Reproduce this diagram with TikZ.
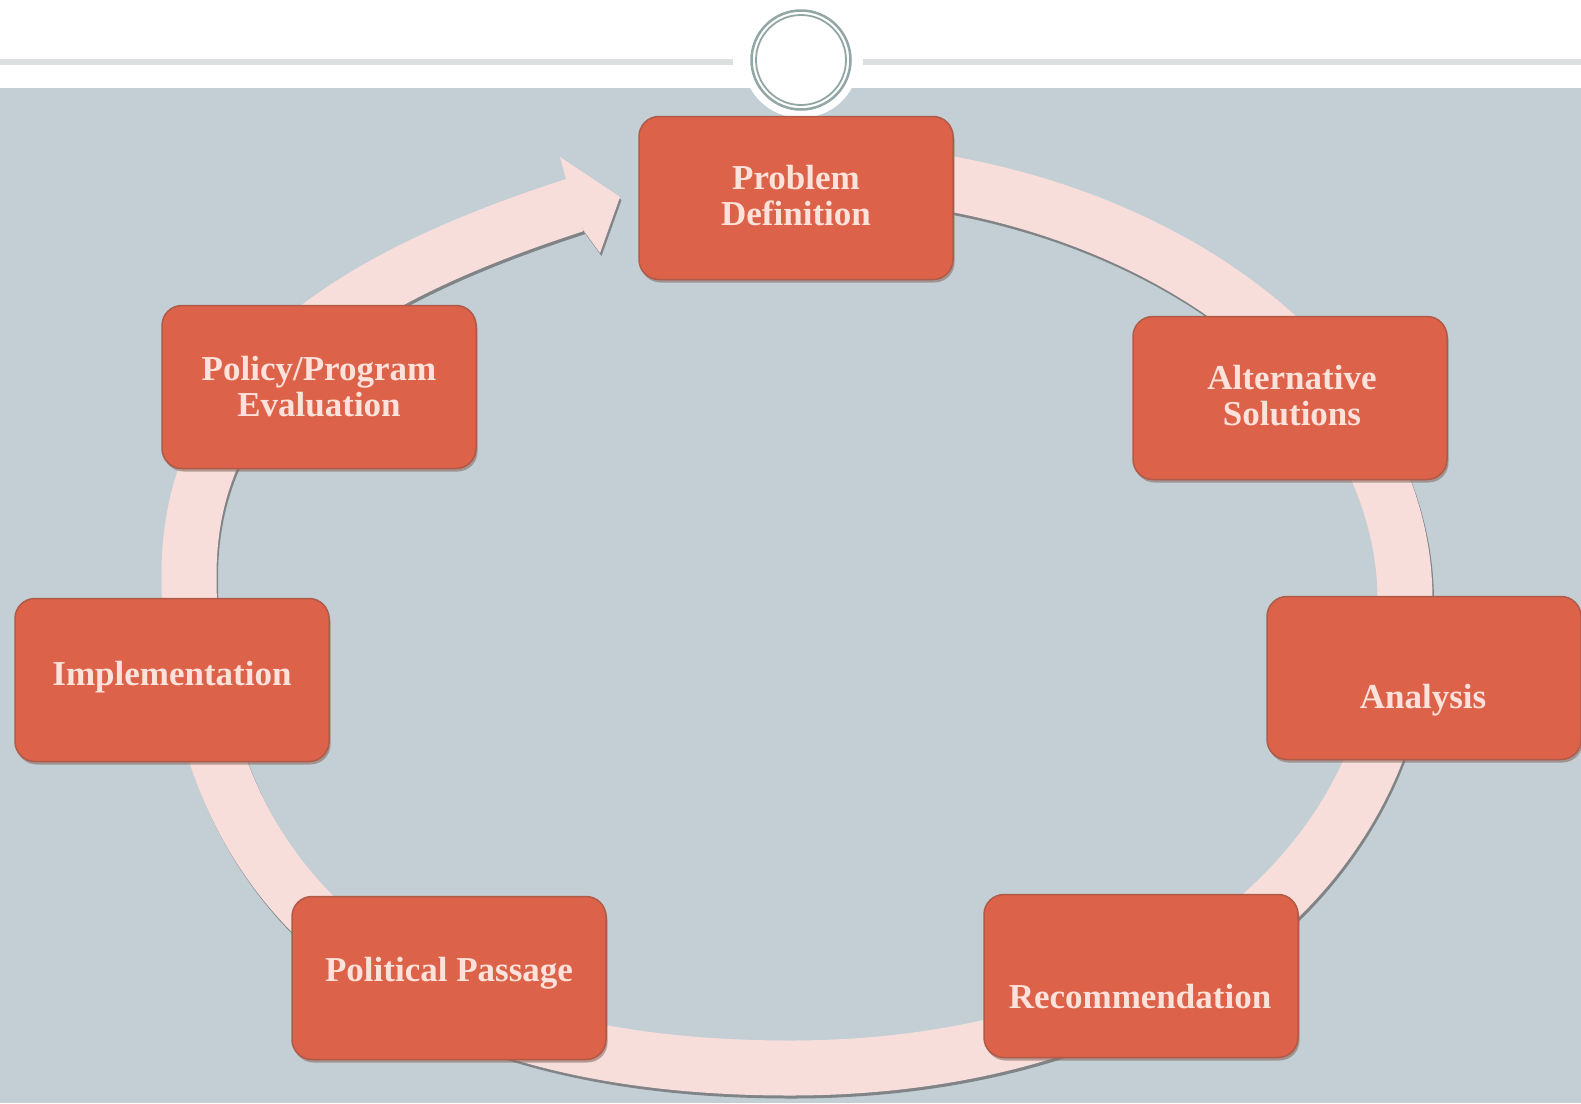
\documentclass[tikz,border=0pt]{standalone}
\usepackage{fontspec}
\setmainfont{Liberation Serif}
\usetikzlibrary{shadows}
\definecolor{bgc}{HTML}{C3CFD5}
\definecolor{ringc}{HTML}{F8DEDA}
\definecolor{ringsh}{HTML}{808487}
\definecolor{boxfill}{HTML}{DD624A}
\definecolor{boxedge}{HTML}{B05A48}
\definecolor{txtc}{HTML}{FCE2DB}
\definecolor{toplinec}{HTML}{DDE0E1}
\definecolor{circc}{HTML}{92A7A5}
\definecolor{boxsh}{HTML}{8A6E66}
\newcommand{\cyclecurve}{(797,170) .. controls (1133,170) and (1405,363) .. (1405,600) .. controls (1405,870) and (1160,1068) .. (790,1068) .. controls (399,1068) and (189,895) .. (189,575) .. controls (189,375) and (356,276) .. (575,205)}
\newcommand{\headshape}{(566,179) -- (560,157) -- (620,197) -- (600,253) -- (584,231) -- (570,205) -- cycle}
\tikzset{
  stagebox/.style={draw=boxedge, line width=1.5pt, fill=boxfill, rounded corners=20pt,
    minimum width=314pt, minimum height=163pt, inner sep=0pt,
    drop shadow={shadow xshift=1.5pt, shadow yshift=-3pt, fill=boxsh, opacity=0.6}},
  stagetext/.style={text=txtc, font=\bfseries\fontsize{35}{36}\selectfont, align=center, inner sep=0pt},
  band/.style={line width=55pt, line cap=butt, line join=round},
}
\begin{document}
\begin{tikzpicture}[x=1pt, y=-1pt]
\useasboundingbox (0,0) rectangle (1581,1103);
% background
\fill[white] (0,0) rectangle (1581,88);
\fill[bgc] (0,88) rectangle (1581,1103);
\draw[toplinec, line width=6pt] (0,62) -- (733,62);
\draw[toplinec, line width=6pt] (863,62) -- (1581,62);
\node[circle, fill=white, minimum size=116pt, inner sep=0pt] (disk) at (801,60) {};
\node[circle, draw=circc, line width=2.5pt, minimum size=99pt, inner sep=0pt] (ringout) at (801,60) {};
\node[circle, draw=circc, line width=1.8pt, minimum size=90pt, inner sep=0pt] (ringin) at (801,60) {};
% cycle band shadow
\begin{scope}[shift={(1.5,3)}]
  \draw[band, ringsh] \cyclecurve;
  \fill[ringsh] \headshape;
\end{scope}
% cycle band
\draw[band, ringc] \cyclecurve;
\fill[ringc] \headshape;
% boxes
\node[stagebox] (pd) at (796,198) {};
\node[stagebox] (as) at (1290,398) {};
\node[stagebox] (an) at (1424,678) {};
\node[stagebox] (rec) at (1141,976) {};
\node[stagebox] (pp) at (449,978) {};
\node[stagebox] (im) at (172,680) {};
\node[stagebox] (pe) at (319,387) {};
% texts
\node[stagetext] (pdt) at (796,196) {Problem\\Definition};
\node[stagetext] (ast) at (1292,396) {Alternative\\Solutions};
\node[stagetext] (ant) at (1423,700) {Analysis};
\node[stagetext] (rect) at (1140,997) {Recommendation};
\node[stagetext] (ppt) at (449,973) {Political Passage};
\node[stagetext] (imt) at (172,677) {Implementation};
\node[stagetext] (pet) at (319,387) {Policy/Program\\Evaluation};
\end{tikzpicture}
\end{document}
